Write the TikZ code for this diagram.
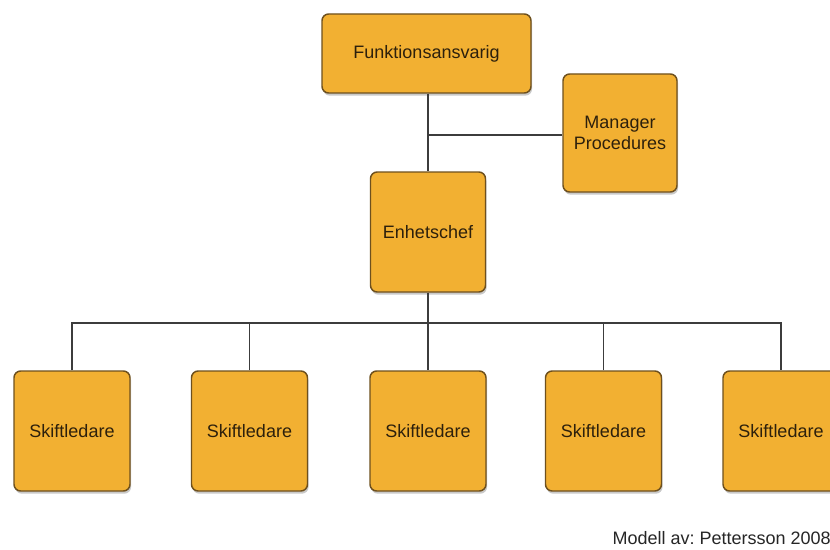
\documentclass[tikz,border=0pt]{standalone}
\usepackage{fontspec}
\setmainfont{Liberation Sans}
\usetikzlibrary{shadows}
\frenchspacing
\definecolor{boxfill}{RGB}{242,176,50}
\definecolor{boxedge}{RGB}{110,80,30}
\definecolor{boxtext}{RGB}{45,32,12}
\definecolor{linkcol}{RGB}{60,60,60}
\tikzset{
  orgbox/.style={draw=boxedge, line width=1.1pt, fill=boxfill, rounded corners=5pt,
    align=center, text=boxtext, font=\fontsize{13.5}{16}\selectfont,
    drop shadow={shadow xshift=0.8pt, shadow yshift=-2pt, opacity=0.35, fill=black!60}},
  shiftbox/.style={orgbox, minimum width=87pt, minimum height=90pt},
  link/.style={draw=linkcol, line width=0.9pt}
}
\begin{document}
\begin{tikzpicture}[x=0.75pt, y=-0.75pt]
\clip (0,0) rectangle (830,549);
\fill[white] (0,0) rectangle (830,549);
\useasboundingbox (0,0) rectangle (830,549);

% management boxes
\node[orgbox, minimum width=156.75pt, minimum height=59.25pt] (funk) at (426.5,53.5) {Funktionsansvarig};
\node[orgbox, minimum width=85.5pt, minimum height=88.5pt] (mgr) at (620,133) {Manager\\Procedures};
\node[orgbox, minimum width=86.25pt, minimum height=90pt] (enh) at (428,232) {Enhetschef};

% shift leaders
\node[shiftbox] (s1) at (72,431) {Skiftledare};
\node[shiftbox] (s2) at (249.5,431) {Skiftledare};
\node[shiftbox] (s3) at (428,431) {Skiftledare};
\node[shiftbox] (s4) at (603.5,431) {Skiftledare};
\node[shiftbox] (s5) at (781,431) {Skiftledare};

% connectors
\coordinate (mj) at (428,135);
\coordinate (bus) at (428,323);
\draw[link] (funk.south -| mj) -- (enh.north);
\draw[link] (mj) -- (mj -| mgr.west);
\draw[link] (enh.south) -- (s3.north);
\draw[link] (s1.north) |- (bus) -| (s5.north);
\draw[link] (s2.north) -- (s2.north |- bus);
\draw[link] (s4.north) -- (s4.north |- bus);

% credit line
\node[anchor=east, text=black!85, font=\fontsize{13.5}{16}\selectfont, inner sep=0pt] (credit) at (831,538) {Modell av: Pettersson 2008};
\end{tikzpicture}
\end{document}
